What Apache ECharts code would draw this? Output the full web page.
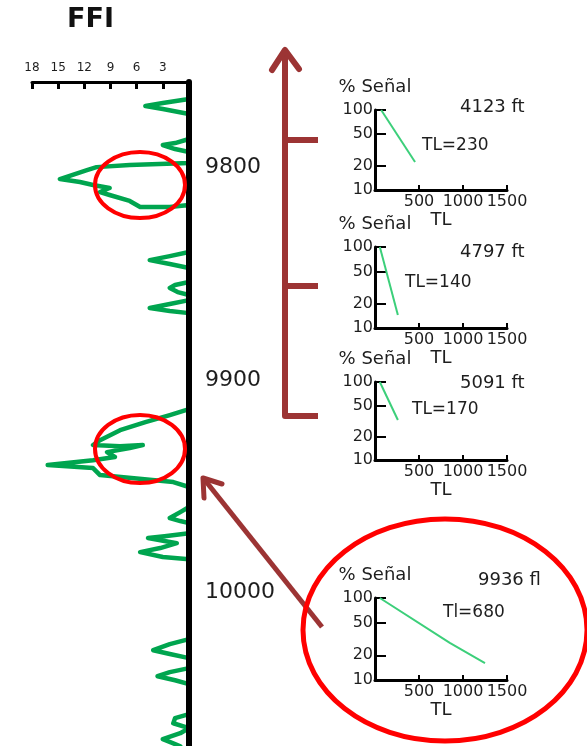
<!DOCTYPE html>
<html><head><meta charset="utf-8">
<script src="https://cdn.jsdelivr.net/npm/echarts@6/dist/echarts.min.js"></script>
<style>html,body{margin:0;padding:0;background:#fff}#c{width:587px;height:746px}</style>
</head><body><div id="c"></div>
<script>
// ---- data ----
const ffiTicks = [3, 6, 9, 12, 15, 18];
const depthTicks = [9800, 9900, 10000];
const ffiDepth = [9763.8, 9768.0, 9769.9, 9771.3, 9772.7, 9775.0, 9786.8, 9788.7, 9789.6, 9791.5, 9792.9,
  9798.1, 9799.0, 9800.0, 9801.4, 9805.6, 9807.0, 9808.4, 9809.8, 9811.7, 9813.1, 9815.9, 9818.7, 9818.7, 9817.8,
  9839.9, 9841.8, 9843.7, 9845.5, 9847.4, 9854.0, 9855.4, 9856.8, 9858.7, 9860.1,
  9862.5, 9864.3, 9866.2, 9867.6, 9868.6,
  9913.7, 9916.5, 9919.8, 9923.6, 9928.3, 9930.6, 9931.1, 9930.6, 9932.0, 9933.9, 9936.2, 9937.7, 9940.0, 9941.4, 9944.7, 9948.0, 9950.3,
  9959.7, 9962.1, 9964.9, 9966.3, 9967.3, 9972.0, 9973.4, 9974.3, 9976.7, 9979.0, 9980.9, 9983.2, 9984.2,
  10021.8, 10024.1, 10027.0, 10028.8, 10030.7, 10035.4, 10037.3, 10039.2, 10041.1, 10042.9,
  10057.0, 10058.9, 10061.3, 10063.6, 10066.0, 10068.8, 10071.1, 10072.1];
const ffiValue = [0, 0, 3.0, 5.0, 3.0, 0, 0, 1.6, 3.0, 1.6, 0,
  0, 6.8, 10.6, 11.7, 14.8, 12.5, 11.0, 9.1, 10.2, 9.1, 6.8, 5.6, 2.2, 0,
  0, 2.2, 4.5, 2.2, 0, 0, 1.6, 2.2, 1.3, 0,
  0, 2.2, 4.5, 2.2, 0,
  0, 2.2, 5.0, 7.9, 10.2, 11.0, 7.9, 5.3, 6.8, 9.4, 8.5, 11.0, 16.2, 11.0, 10.2, 1.8, 0,
  0, 1.0, 2.2, 1.0, 0, 0, 2.8, 4.7, 1.4, 3.3, 5.6, 3.0, 0,
  0, 2.2, 4.1, 2.2, 0, 0, 2.2, 3.6, 1.6, 0,
  0, 1.6, 1.8, 0, 1.0, 3.0, 1.6, 1.0];

const panelDepths = ['4123 ft', '4797 ft', '5091 ft', '9936 fl'];
const panelTL = ['TL=230', 'TL=140', 'TL=170', 'Tl=680'];
const decayTL = [[70, 455], [55, 260], [55, 260], [55, 850, 1250]];
const decaySignal = [[100, 22.4], [100, 14.5], [100, 32.6], [100, 28.3, 16.1]];
const signalTicks = [10, 20, 50, 100];
const signalTickMarks = [20, 50, 100];
const tlTicks = [500, 1000, 1500];

// ---- layout ----
const FONT = 'DejaVu Sans';
const INK = '#1e1e1e';
const insetTop = [110, 247, 382, 598];
const insetH = [80, 81, 78, 82];
const depthLabelPos = [[460, 107], [460, 252], [460, 383], [478, 580]];
const tlLabelPos = [[422, 146], [405, 283], [412, 410], [443, 613]];
const plain = v => String(v);
const tlLabel = v => (tlTicks.indexOf(v) >= 0 ? String(v) : '');

const chart = echarts.init(document.getElementById('c'));

const grids = [{left: 32, top: 82, width: 157, height: 664}];
const xAxes = [{
  gridIndex: 0, type: 'value', position: 'top', inverse: true, min: 0, max: 18, interval: 3,
  axisLine: {show: true, onZero: false, lineStyle: {color: '#000', width: 3}},
  axisTick: {show: true, inside: true, length: 7, lineStyle: {color: '#000', width: 3}},
  axisLabel: {showMinLabel: false, showMaxLabel: true, formatter: plain, fontFamily: FONT, fontSize: 12, color: INK, margin: 8},
  splitLine: {show: false}
}];
const yAxes = [{
  gridIndex: 0, type: 'value', inverse: true, position: 'right', min: 9760, max: 10072, z: 10,
  axisLine: {show: true, onZero: false, lineStyle: {color: '#000', width: 6}},
  axisTick: {show: false},
  axisLabel: {customValues: depthTicks, formatter: plain, fontFamily: FONT, fontSize: 22, color: INK, margin: 16},
  splitLine: {show: false}
}];
const series = [{
  type: 'line', xAxisIndex: 0, yAxisIndex: 0, symbol: 'none', z: 2,
  data: ffiValue.map((v, i) => [v, ffiDepth[i]]),
  lineStyle: {color: '#00a54f', width: 4.5, cap: 'round', join: 'round'}
}];

insetTop.forEach((t, i) => {
  grids.push({left: 375, top: t, width: 132, height: insetH[i]});
  xAxes.push({
    gridIndex: i + 1, type: 'value', min: 0, max: 1500, interval: 500,
    axisLine: {show: true, onZero: false, lineStyle: {color: '#000', width: 3}},
    axisTick: {show: true, inside: true, length: 5, lineStyle: {color: '#000', width: 2}},
    axisLabel: {showMinLabel: true, showMaxLabel: true, hideOverlap: false, formatter: tlLabel,
      fontFamily: FONT, fontSize: 16, color: INK, margin: 4},
    splitLine: {show: false},
    name: 'TL', nameLocation: 'middle', nameGap: 21,
    nameTextStyle: {fontFamily: FONT, fontSize: 18, color: INK}
  });
  yAxes.push({
    gridIndex: i + 1, type: 'log', logBase: 10, min: 10, max: 100,
    axisLine: {show: true, onZero: false, lineStyle: {color: '#000', width: 3}},
    axisTick: {show: true, inside: true, length: 11, customValues: signalTickMarks, lineStyle: {color: '#000', width: 2}},
    axisLabel: {customValues: signalTicks, formatter: plain, fontFamily: FONT, fontSize: 16, color: INK, margin: 2},
    splitLine: {show: false},
    name: '% Señal', nameLocation: 'end', nameGap: 14,
    nameTextStyle: {fontFamily: FONT, fontSize: 18, color: INK}
  });
  series.push({
    type: 'line', xAxisIndex: i + 1, yAxisIndex: i + 1, symbol: 'none',
    data: decayTL[i].map((v, j) => [v, decaySignal[i][j]]),
    lineStyle: {color: '#3ccf7a', width: 2}
  });
});

const ARROW = '#9c3434';
const graphics = [
  {type: 'text', left: 67, top: 6, z: 100, style: {text: 'FFI', font: 'bold 27px "DejaVu Sans"', fill: '#111'}},
  // vertical arrow with branches
  {type: 'polyline', z: 50, shape: {points: [[318, 416], [285, 416], [285, 52]]}, style: {stroke: ARROW, lineWidth: 6, fill: null, lineJoin: 'round'}},
  {type: 'polyline', z: 50, shape: {points: [[272, 70], [285, 50], [299, 69]]}, style: {stroke: ARROW, lineWidth: 6, fill: null, lineJoin: 'round', lineCap: 'round'}},
  {type: 'line', z: 50, shape: {x1: 285, y1: 140, x2: 318, y2: 140}, style: {stroke: ARROW, lineWidth: 6}},
  {type: 'line', z: 50, shape: {x1: 285, y1: 286, x2: 318, y2: 286}, style: {stroke: ARROW, lineWidth: 6}},
  // diagonal arrow
  {type: 'line', z: 50, shape: {x1: 322, y1: 627, x2: 204, y2: 479}, style: {stroke: ARROW, lineWidth: 5}},
  {type: 'polyline', z: 50, shape: {points: [[204, 498], [203, 478], [222, 484]]}, style: {stroke: ARROW, lineWidth: 5, fill: null, lineJoin: 'round', lineCap: 'round'}},
  // red ellipses
  {type: 'ellipse', z: 60, shape: {cx: 140, cy: 185, rx: 45, ry: 33}, style: {stroke: '#ff0000', lineWidth: 4, fill: null}},
  {type: 'ellipse', z: 60, shape: {cx: 140, cy: 449, rx: 45, ry: 34}, style: {stroke: '#ff0000', lineWidth: 4, fill: null}},
  {type: 'ellipse', z: 60, shape: {cx: 445, cy: 630, rx: 142, ry: 111}, style: {stroke: '#ff0000', lineWidth: 5, fill: null}}
];
panelDepths.forEach((s, i) => {
  graphics.push({type: 'text', x: depthLabelPos[i][0], y: depthLabelPos[i][1], z: 100,
    style: {text: s, font: '18px "DejaVu Sans"', fill: INK, verticalAlign: 'middle'}});
  graphics.push({type: 'text', x: tlLabelPos[i][0], y: tlLabelPos[i][1], z: 100,
    style: {text: panelTL[i], font: '17px "DejaVu Sans"', fill: INK, verticalAlign: 'middle'}});
});

chart.setOption({
  animation: false,
  backgroundColor: '#fff',
  grid: grids,
  xAxis: xAxes,
  yAxis: yAxes,
  series: series,
  graphic: graphics
});
</script>
</body></html>
